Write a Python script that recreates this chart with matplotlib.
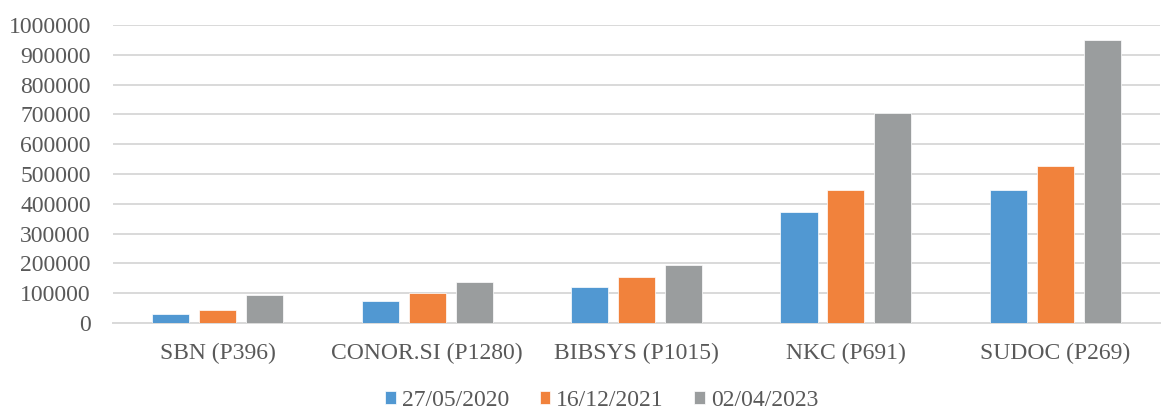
import matplotlib.pyplot as plt
import matplotlib.ticker as ticker
import numpy as np

# 数据
categories = ["SBN (P396)", "CONOR.SI (P1280)", "BIBSYS (P1015)", "NKC (P691)", "SUDOC (P269)"]
series_names = ["27/05/2020", "16/12/2021", "02/04/2023"]
vals_2020 = [31000, 74000, 122000, 373000, 445000]
vals_2021 = [45000, 102000, 156000, 445000, 526000]
vals_2023 = [94000, 137500, 193000, 704000, 948000]
colors = ["#5198D2", "#F1823C", "#9A9D9E"]

plt.rcParams["font.family"] = ["Liberation Serif", "DejaVu Serif"]
text_color = "#595959"
font_size = 17

fig = plt.figure(figsize=(11.64, 4.11), dpi=100)
ax = fig.add_axes([0.0971, 0.2141, 0.8995, 0.7251])

x = np.arange(len(categories))
bar_w = 0.177
step = 0.224
for i, (vals, name) in enumerate(zip([vals_2020, vals_2021, vals_2023], series_names)):
    ax.bar(x + (i - 1) * step, vals, width=bar_w, color=colors[i],
           edgecolor="white", linewidth=0.5, label=name, zorder=3)

ax.set_xlim(-0.5, len(categories) - 0.5)
ax.set_ylim(0, 1000000)
ax.set_yticks(np.arange(0, 1000001, 100000))
ax.yaxis.set_major_formatter(ticker.FuncFormatter(lambda v, p: f"{int(v)}"))
ax.set_xticks(x)
ax.set_xticklabels(categories)

# 网格线和坐标轴
ax.yaxis.grid(True, color="#D9D9D9", linewidth=1.4, zorder=0)
for s in ["top", "right", "left"]:
    ax.spines[s].set_visible(False)
ax.spines["bottom"].set_color("#D9D9D9")
ax.spines["bottom"].set_linewidth(1.4)
ax.tick_params(axis="y", length=0, pad=16, labelsize=font_size, labelcolor=text_color)
ax.tick_params(axis="x", length=0, pad=14, labelsize=font_size, labelcolor=text_color)

# 图例
fig.legend(loc="center", bbox_to_anchor=(0.517, 0.026), ncol=3, frameon=False,
           fontsize=font_size, labelcolor=text_color, handlelength=0.45,
           handleheight=0.45, handletextpad=0.25, columnspacing=1.3)

fig.savefig("out.png", dpi=100)
